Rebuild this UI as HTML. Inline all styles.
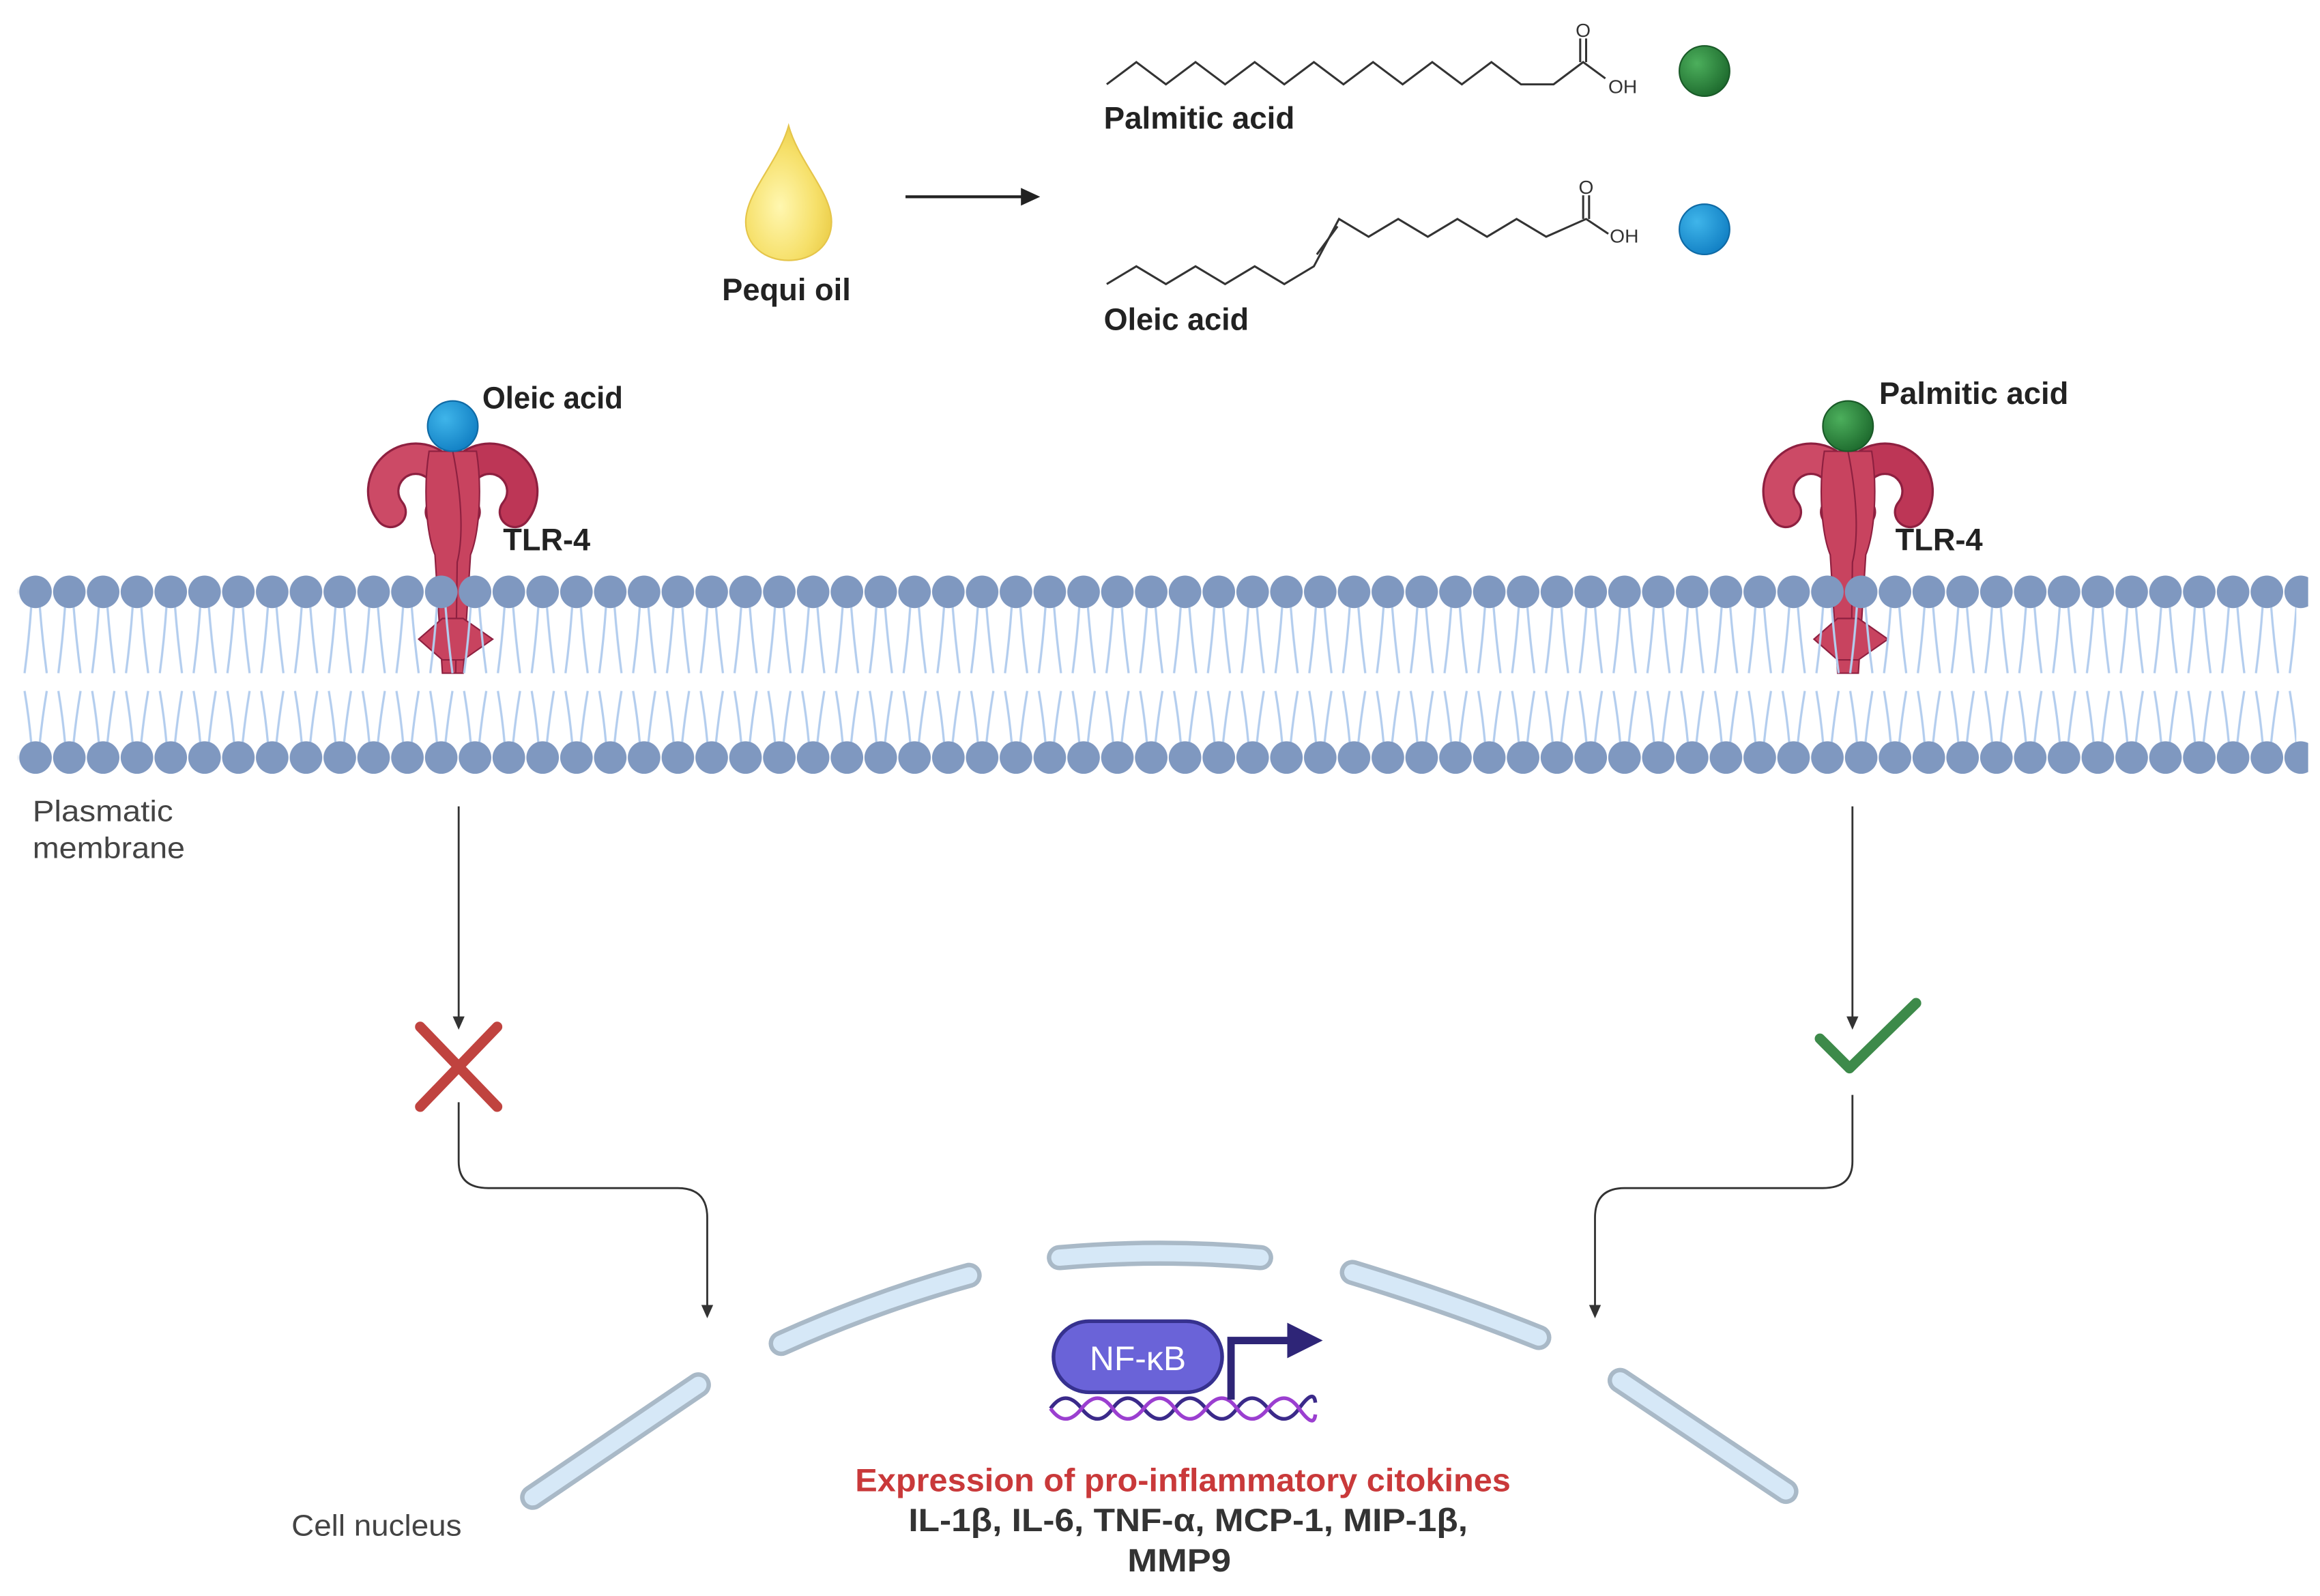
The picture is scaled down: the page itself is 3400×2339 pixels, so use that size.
<!DOCTYPE html>
<html><head><meta charset="utf-8"><style>
html,body{margin:0;padding:0;background:#fff;}
svg{display:block;}
text{font-family:"Liberation Sans",sans-serif;}
</style></head><body>
<svg width="3400" height="2339" viewBox="0 0 1568 1078.7" preserveAspectRatio="none" xmlns="http://www.w3.org/2000/svg">
<defs>
<radialGradient id="drop" cx="0.4" cy="0.6" r="0.7"><stop offset="0" stop-color="#fff7b0"/><stop offset="0.6" stop-color="#f6e06a"/><stop offset="1" stop-color="#e8c840"/></radialGradient>
<radialGradient id="gs" cx="0.35" cy="0.35" r="0.7"><stop offset="0" stop-color="#4caf5c"/><stop offset="1" stop-color="#1e6b2e"/></radialGradient>
<radialGradient id="bs" cx="0.35" cy="0.35" r="0.7"><stop offset="0" stop-color="#3fb5ea"/><stop offset="1" stop-color="#1280c4"/></radialGradient>
<pattern id="heads" x="12.6" y="0" width="22.85" height="1078.7" patternUnits="userSpaceOnUse">
<circle cx="11.4" cy="400" r="11" fill="#7f98c0"/>
<circle cx="11.4" cy="512" r="11" fill="#7f98c0"/>
</pattern>
<pattern id="tails" x="12.6" y="0" width="22.85" height="1078.7" patternUnits="userSpaceOnUse">
<g stroke="#b3cdee" stroke-width="1.5" fill="none">
<path d="M8.5 410 Q7 432 4 455 M14.3 410 Q16 432 19 455"/>
<path d="M4 467 Q7 485 8.5 502 M19 467 Q16 485 14.3 502"/>
</g>
</pattern>
<g id="tlr">
<path d="M-42 346 A22 22 0 1 1 -8 346" fill="none" stroke="#8e2040" stroke-width="22" stroke-linecap="round"/>
<path d="M-42 346 A22 22 0 1 1 -8 346" fill="none" stroke="#cc4a66" stroke-width="19" stroke-linecap="round"/>
<path d="M8 346 A22 22 0 1 1 42 346" fill="none" stroke="#8e2040" stroke-width="22" stroke-linecap="round"/>
<path d="M8 346 A22 22 0 1 1 42 346" fill="none" stroke="#bd3656" stroke-width="19" stroke-linecap="round"/>
<path d="M-16 305 C-20 330,-18 360,-12 375 L-7 455 L7 455 L12 375 C18 360,20 330,16 305 Z" fill="#c8435f" stroke="#8e2040" stroke-width="1"/>
<path d="M0 305 C5 330,8 360,3 380 L2 455" stroke="#8e2040" stroke-width="1" fill="none"/>
<polygon points="-23,432 -7,418 7,418 27,432 7,446 -7,446" fill="#c8435f" stroke="#8e2040" stroke-width="1"/>
</g>
</defs>

<path d="M533 85 C540 110,562 130,562 150 C562 166,549 176,533 176 C517 176,504 166,504 150 C504 130,526 110,533 85 Z" fill="url(#drop)" stroke="#e5c54a" stroke-width="1"/>
<text x="488" y="203" font-size="21" font-weight="bold" fill="#222" textLength="87" lengthAdjust="spacingAndGlyphs">Pequi oil</text>
<line x1="612" y1="133" x2="692" y2="133" stroke="#222" stroke-width="2"/>
<polygon points="703,133 690,127 690,139" fill="#222"/>

<g stroke="#333" stroke-width="1.4" fill="none">
<polyline points="748,57 768,42 788,57 808,42 828,57 848,42 868,57 888,42 908,57 928,42 948,57 968,42 988,57 1008,42 1028,57 1050,57 1070,42 1085,53"/>
<line x1="1068" y1="42" x2="1068" y2="26"/><line x1="1072" y1="42" x2="1072" y2="26"/>
<polyline points="748,192 768,180 788,192 808,180 828,192 848,180 868,192 888,180 905,148 925,160 945,148 965,160 985,148 1005,160 1025,148 1045,160 1072,148 1087,158"/>
<line x1="890" y1="172" x2="904" y2="153"/>
<line x1="1070" y1="148" x2="1070" y2="132"/><line x1="1074" y1="148" x2="1074" y2="132"/>
</g>
<text x="1070" y="25" font-size="13" fill="#333" text-anchor="middle">O</text>
<text x="1087" y="63" font-size="13" fill="#333">OH</text>
<text x="1072" y="131" font-size="13" fill="#333" text-anchor="middle">O</text>
<text x="1088" y="164" font-size="13" fill="#333">OH</text>
<circle cx="1152" cy="48" r="17" fill="url(#gs)" stroke="#1a5a28"/>
<circle cx="1152" cy="155" r="17" fill="url(#bs)" stroke="#0f6aa5"/>
<text x="746" y="87" font-size="21" font-weight="bold" fill="#222" textLength="129" lengthAdjust="spacingAndGlyphs">Palmitic acid</text>
<text x="746" y="223" font-size="21" font-weight="bold" fill="#222" textLength="98" lengthAdjust="spacingAndGlyphs">Oleic acid</text>

<use href="#tlr" transform="translate(306,0)"/>
<use href="#tlr" transform="translate(1249,0)"/>
<circle cx="306" cy="288" r="17" fill="url(#bs)" stroke="#0f6aa5"/>
<circle cx="1249" cy="288" r="17" fill="url(#gs)" stroke="#1a5a28"/>
<text x="326" y="276" font-size="21" font-weight="bold" fill="#222" textLength="95" lengthAdjust="spacingAndGlyphs">Oleic acid</text>
<text x="340" y="372" font-size="21" font-weight="bold" fill="#222" textLength="59" lengthAdjust="spacingAndGlyphs">TLR-4</text>
<text x="1270" y="273" font-size="21" font-weight="bold" fill="#222" textLength="128" lengthAdjust="spacingAndGlyphs">Palmitic acid</text>
<text x="1281" y="372" font-size="21" font-weight="bold" fill="#222" textLength="59" lengthAdjust="spacingAndGlyphs">TLR-4</text>

<rect x="12" y="405" width="1540" height="105" fill="url(#tails)"/>
<rect x="12" y="385" width="1548" height="140" fill="url(#heads)"/>

<text x="22" y="555" font-size="20" fill="#444" textLength="95" lengthAdjust="spacingAndGlyphs">Plasmatic</text>
<text x="22" y="580" font-size="20" fill="#444" textLength="103" lengthAdjust="spacingAndGlyphs">membrane</text>

<g stroke="#333" stroke-width="1.3" fill="none">
<line x1="310" y1="545" x2="310" y2="690"/>
<path d="M310 745 L310 785 Q310 803 330 803 L458 803 Q478 803 478 823 L478 885"/>
<line x1="1252" y1="545" x2="1252" y2="690"/>
<path d="M1252 740 L1252 785 Q1252 803 1232 803 L1098 803 Q1078 803 1078 823 L1078 885"/>
</g>
<g fill="#333">
<polygon points="310,696 306,687 314,687"/><polygon points="478,891 474,882 482,882"/>
<polygon points="1252,696 1248,687 1256,687"/><polygon points="1078,891 1074,882 1082,882"/>
</g>
<path d="M284 694 L336 748 M336 694 L284 748" stroke="#c0433f" stroke-width="7" stroke-linecap="round"/>
<path d="M1230 702 L1250 722 L1295 678" stroke="#3d8a4a" stroke-width="7" stroke-linecap="round" stroke-linejoin="round" fill="none"/>

<g fill="none" stroke-linecap="round">
<g stroke="#a9b9c7" stroke-width="17">
<path d="M360 1012 L472 936"/><path d="M528 908 Q590 880 655 862"/><path d="M716 850 Q784 844 852 850"/><path d="M914 860 Q980 880 1040 904"/><path d="M1095 933 L1207 1008"/>
</g>
<g stroke="#d6e8f7" stroke-width="11">
<path d="M360 1012 L472 936"/><path d="M528 908 Q590 880 655 862"/><path d="M716 850 Q784 844 852 850"/><path d="M914 860 Q980 880 1040 904"/><path d="M1095 933 L1207 1008"/>
</g>
</g>

<g fill="none" stroke-width="2.5">
<path d="M710 952 Q720 938 731 952 T752 952 T773 952 T794 952 T815 952 T836 952 T857 952 T878 952 T889 948" stroke="#3b2a8a"/>
<path d="M710 952 Q720 966 731 952 T752 952 T773 952 T794 952 T815 952 T836 952 T857 952 T878 952 T889 956" stroke="#9b3fd0"/>
</g>
<path d="M832 946 L832 906 L872 906" stroke="#2e2577" stroke-width="5" fill="none"/>
<polygon points="894,906 870,894 870,918" fill="#2e2577"/>
<rect x="712" y="893" width="114" height="48" rx="24" fill="#6a63d8" stroke="#36318f" stroke-width="2.5"/>
<text x="769" y="926" font-size="23" fill="#fff" text-anchor="middle">NF-κB</text>

<text x="578" y="1008" font-size="22" font-weight="bold" fill="#c9393a" textLength="443" lengthAdjust="spacingAndGlyphs">Expression of pro-inflammatory citokines</text>
<text x="614" y="1035" font-size="22" font-weight="bold" fill="#333" textLength="378" lengthAdjust="spacingAndGlyphs">IL-1β, IL-6, TNF-α, MCP-1, MIP-1β,</text>
<text x="762" y="1062" font-size="22" font-weight="bold" fill="#333" textLength="70" lengthAdjust="spacingAndGlyphs">MMP9</text>
<text x="197" y="1038" font-size="20" fill="#444" textLength="115" lengthAdjust="spacingAndGlyphs">Cell nucleus</text>
</svg>
</body></html>
